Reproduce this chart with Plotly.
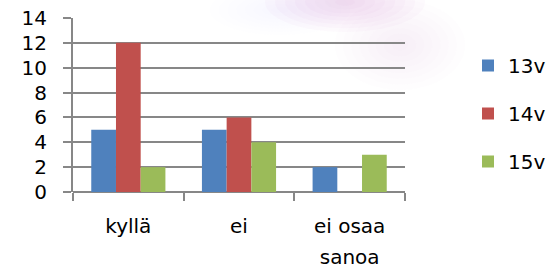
import plotly.graph_objects as go

categories = ["kyllä", "ei", "ei osaa<br>sanoa"]
series_names = ["13v", "14v", "15v"]
v13 = [5, 5, 2]
v14 = [12, 6, 0]
v15 = [2, 4, 3]
colors = ["#4F81BD", "#C0504D", "#9BBB59"]
y_ticks = [0, 2, 4, 6, 8, 10, 12, 14]


def label_html(text, size=20):
    # keep visible size at `size` while the axis font sets the wider line spacing
    return "<br>".join(f"<span style='font-size:{size}px'>{part}</span>" for part in text.split("<br>"))


fig = go.Figure()
for i, (name, vals) in enumerate(zip(series_names, [v13, v14, v15])):
    fig.add_trace(go.Bar(x=categories, y=vals, name=name, marker_color=colors[i],
                         marker_line_width=0, legendgroup=name))

family = "DejaVu Sans, sans-serif"
font = dict(family=family, size=20, color="#000")
grid = "#878787"
L, R, T, B = 73, 150, 18, 77
W, H = 555, 269
PW, PH = W - L - R, H - T - B
fig.update_layout(
    width=W, height=H,
    margin=dict(l=L, r=R, t=T, b=B, autoexpand=False),
    paper_bgcolor="white", plot_bgcolor="rgba(0,0,0,0)",
    barmode="group", bargap=0.33, bargroupgap=0,
    font=font,
    showlegend=True,
    legend=dict(x=(468 - L) / PW, y=(H - B - 46) / PH, xanchor="left", yanchor="top", tracegroupgap=19,
                font=dict(size=20), itemwidth=30, bgcolor="rgba(0,0,0,0)"),
    xaxis=dict(showgrid=False, tickson="boundaries", ticks="outside", ticklen=8,
               tickcolor=grid, tickwidth=2, showline=False, automargin=False,
               tickmode="array", tickvals=categories, ticktext=[label_html(c) for c in categories],
               tickfont=dict(family=family, size=24, color="#000"), ticklabelstandoff=16),
    yaxis=dict(range=[0, 14], tickvals=y_ticks, showgrid=True, gridcolor=grid, gridwidth=2,
               showline=True, linecolor=grid, linewidth=2, ticks="outside", ticklen=8,
               tickcolor=grid, tickwidth=2, zeroline=True, zerolinecolor=grid, zerolinewidth=2,
               tickfont=font, automargin=False, ticklabelstandoff=12),
)


def px(xp):
    return (xp - L) / PW


def py(yp):
    return (H - B - yp) / PH


# faint decorative glow in the background (soft concentric ellipses)
for (cx, cy, rx, ry, rgb, a) in [(345, 2, 80, 30, "200,150,210", 0.045),
                                 (400, 45, 65, 45, "225,190,225", 0.03),
                                 (280, 10, 70, 25, "235,225,240", 0.03)]:
    n = 8
    for k in range(n, 0, -1):
        s = k / n
        fig.add_shape(type="circle", xref="paper", yref="paper",
                      x0=px(cx - rx * s), x1=px(cx + rx * s),
                      y0=py(cy + ry * s), y1=py(cy - ry * s),
                      fillcolor=f"rgba({rgb},{a})", line_width=0, layer="below")

fig.write_html("out.html", config={"displayModeBar": False},
               post_script="document.body.style.margin='0px';")
